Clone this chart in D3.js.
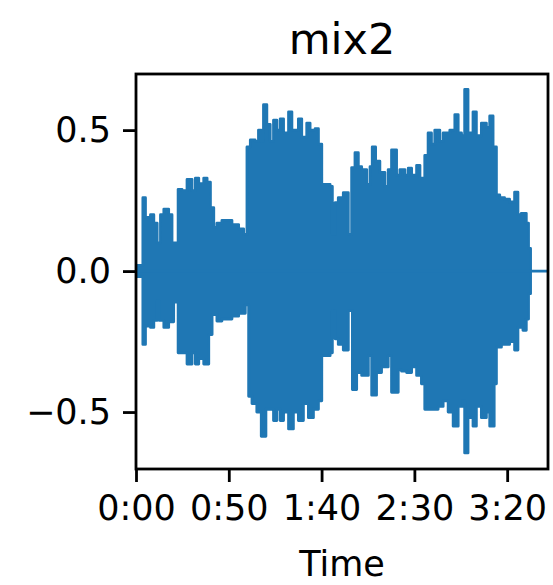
<!DOCTYPE html>
<html>
<head>
<meta charset="utf-8">
<script src="https://cdn.jsdelivr.net/npm/d3@7"></script>
<style>
  html, body { margin: 0; padding: 0; background: #fff; }
  svg { display: block; }
  text { font-family: "DejaVu Sans", sans-serif; fill: #000; }
</style>
</head>
<body>
<div id="chart"></div>
<script>
// ---------------- data ----------------
const title = "mix2";
const xLabel = "Time";
const duration = 222; // seconds
const xTickValues = [0, 50, 100, 150, 200];
const xTickLabels = ["0:00", "0:50", "1:40", "2:30", "3:20"];
const yTickValues = [-0.5, 0, 0.5];
const yTickLabels = ["\u22120.5", "0.0", "0.5"];

// upper envelope (seconds, amplitude) – step-after
const upperTimes = [0, 0.8, 3.7, 5.1, 7.8, 9.6, 11.4, 13.2, 15.0, 17.6, 19.4, 22.7, 24.8, 27.5, 30.2, 32.0, 33.8, 36.5, 38.3, 40.1, 41.9, 43.6, 46.3, 49.0, 51.7, 55.3, 58.0,
  59.8, 61.6, 64.2, 66.0, 67.5, 68.7, 70.5, 72.3, 74.1, 75.9, 77.7, 79.5, 82.2, 84.0, 87.5, 89.3, 92.0, 93.8, 96.5, 98.3,
  100.1, 104.6, 105.8, 107.3, 109.0, 111.7, 114.4, 116.2, 118.0, 119.8, 121.6, 124.3, 126.1, 127.3, 129.1, 131.4, 134.1, 135.9, 137.7, 140.4, 142.2, 144.9, 146.7, 148.5, 151.2, 153.0,
  155.6, 157.4, 159.2, 161.0, 163.7, 165.5, 169.1, 171.8, 173.6, 175.4, 177.1, 178.9, 181.6, 183.4, 186.1, 188.8, 190.6, 192.4,
  194.2, 196.0, 198.6, 201.3, 204.0, 205.8, 207.6, 210.3, 211.5, 212.6];
const upperValues = [0, 0.02, 0.26, 0.19, 0.20, 0.17, 0.10, 0.20, 0.22, 0.20, 0.10, 0.29, 0.285, 0.325, 0.285, 0.33, 0.31, 0.33, 0.315, 0.225, 0.155, 0.17, 0.18, 0.18, 0.165, 0.15, 0.13,
  0.44, 0.465, 0.46, 0.50, 0.46, 0.59, 0.52, 0.46, 0.535, 0.50, 0.54, 0.49, 0.565, 0.50, 0.54, 0.475, 0.525, 0.50, 0.505, 0.45,
  0.307, 0.30, 0.13, 0.243, 0.26, 0.278, 0.13, 0.367, 0.42, 0.37, 0.36, 0.307, 0.37, 0.44, 0.39, 0.35, 0.30, 0.36, 0.43, 0.34, 0.36, 0.34, 0.365, 0.34, 0.375, 0.33,
  0.41, 0.49, 0.45, 0.50, 0.46, 0.49, 0.50, 0.555, 0.49, 0.48, 0.644, 0.49, 0.565, 0.48, 0.525, 0.51, 0.55, 0.44,
  0.27, 0.26, 0.255, 0.245, 0.28, 0.20, 0.205, 0.17, 0.08, 0];

// lower envelope (seconds, amplitude) – step-after
const lowerTimes = [0, 0.8, 3.7, 5.1, 7.8, 9.6, 11.4, 12.6, 15.0, 17.6, 20.3, 22.7, 27.5, 30.2, 32.0, 33.8, 36.5, 39.2, 41.0, 43.6, 46.3, 51.7, 55.3, 58.9,
  60.7, 62.5, 65.1, 67.5, 70.0, 74.1, 75.9, 77.7, 79.5, 82.2, 84.8, 87.5, 90.2, 92.9, 95.6, 98.3,
  100.1, 104.6, 105.8, 107.3, 109.0, 111.7, 114.4, 116.6, 118.9, 121.6, 125.2, 127.0, 129.6, 132.3, 135.9, 137.7, 141.3, 143.1, 145.8, 148.5, 151.2, 153.8,
  155.6, 159.2, 162.8, 165.5, 168.2, 170.9, 173.6, 176.2, 177.1, 178.9, 181.6, 183.4, 186.1, 188.8, 190.6, 193.0,
  194.2, 196.9, 201.3, 204.0, 205.8, 208.5, 210.3, 211.5, 212.6];
const lowerValues = [0, -0.02, -0.26, -0.195, -0.20, -0.175, -0.107, -0.175, -0.20, -0.18, -0.11, -0.29, -0.33, -0.29, -0.33, -0.31, -0.33, -0.225, -0.154, -0.177, -0.17, -0.16, -0.15, -0.12,
  -0.444, -0.47, -0.50, -0.586, -0.49, -0.53, -0.49, -0.53, -0.50, -0.56, -0.50, -0.53, -0.47, -0.52, -0.49, -0.46,
  -0.30, -0.29, -0.14, -0.24, -0.26, -0.28, -0.14, -0.42, -0.36, -0.37, -0.30, -0.44, -0.36, -0.34, -0.30, -0.43, -0.35, -0.355, -0.36, -0.34, -0.37, -0.40,
  -0.49, -0.49, -0.48, -0.46, -0.50, -0.55, -0.48, -0.46, -0.645, -0.52, -0.55, -0.48, -0.52, -0.50, -0.55, -0.40,
  -0.27, -0.26, -0.25, -0.28, -0.20, -0.21, -0.17, -0.08, 0];

// ---------------- layout ----------------
const W = 553, H = 585;
const plot = { left: 136, right: 548, top: 74, bottom: 469 };
const color = "#1f77b4";
const fontSize = 35;

const svg = d3.select("#chart").append("svg")
  .attr("width", W).attr("height", H)
  .attr("viewBox", `0 0 ${W} ${H}`);
svg.append("rect").attr("width", W).attr("height", H).attr("fill", "#fff");

const x = d3.scaleLinear().domain([0, duration]).range([plot.left, plot.right]);
const y = d3.scaleLinear().domain([-0.702, 0.699]).range([plot.bottom, plot.top]);

svg.append("clipPath").attr("id", "clip")
  .append("rect")
  .attr("x", plot.left).attr("y", plot.top)
  .attr("width", plot.right - plot.left).attr("height", plot.bottom - plot.top);

const g = svg.append("g").attr("clip-path", "url(#clip)");

const upper = upperTimes.map((t, i) => [t, upperValues[i]]);
const lower = lowerTimes.map((t, i) => [t, lowerValues[i]]);

const area = d3.area()
  .x(d => x(d[0])).y0(y(0)).y1(d => y(d[1]))
  .curve(d3.curveStepAfter);
const line = d3.line()
  .x(d => x(d[0])).y(d => y(d[1]))
  .curve(d3.curveStepAfter);

[upper, lower].forEach(data => {
  g.append("path").attr("d", area(data)).attr("fill", color).attr("stroke", "none");
  g.append("path").attr("d", line(data)).attr("fill", "none")
    .attr("stroke", color).attr("stroke-width", 2.8)
    .attr("stroke-linejoin", "round").attr("stroke-linecap", "round");
});

// zero line across the full duration
g.append("path")
  .attr("d", line([[0, 0], [duration, 0]]))
  .attr("stroke", color).attr("stroke-width", 2.8).attr("fill", "none");

// ---------------- axes ----------------
const xAxis = d3.axisBottom(x)
  .tickValues(xTickValues)
  .tickFormat((d, i) => xTickLabels[i])
  .tickSize(13).tickPadding(13);
const yAxis = d3.axisLeft(y)
  .tickValues(yTickValues)
  .tickFormat((d, i) => yTickLabels[i])
  .tickSize(13).tickPadding(12);

const gx = svg.append("g").attr("transform", `translate(0,${plot.bottom})`).call(xAxis);
const gy = svg.append("g").attr("transform", `translate(${plot.left},0)`).call(yAxis);

[gx, gy].forEach(a => {
  a.select(".domain").remove();
  a.selectAll(".tick line").attr("stroke", "#000").attr("stroke-width", 2.8);
  a.selectAll(".tick text")
    .attr("font-family", "DejaVu Sans, sans-serif")
    .attr("font-size", fontSize).attr("fill", "#000");
});

// frame
svg.append("rect")
  .attr("x", plot.left).attr("y", plot.top)
  .attr("width", plot.right - plot.left).attr("height", plot.bottom - plot.top)
  .attr("fill", "none").attr("stroke", "#000").attr("stroke-width", 2.8);

// title & label
svg.append("text")
  .attr("x", (plot.left + plot.right) / 2).attr("y", 54)
  .attr("text-anchor", "middle")
  .attr("font-size", 43)
  .text(title);

svg.append("text")
  .attr("x", (plot.left + plot.right) / 2).attr("y", 576)
  .attr("text-anchor", "middle")
  .attr("font-size", 35)
  .text(xLabel);
</script>
</body>
</html>
